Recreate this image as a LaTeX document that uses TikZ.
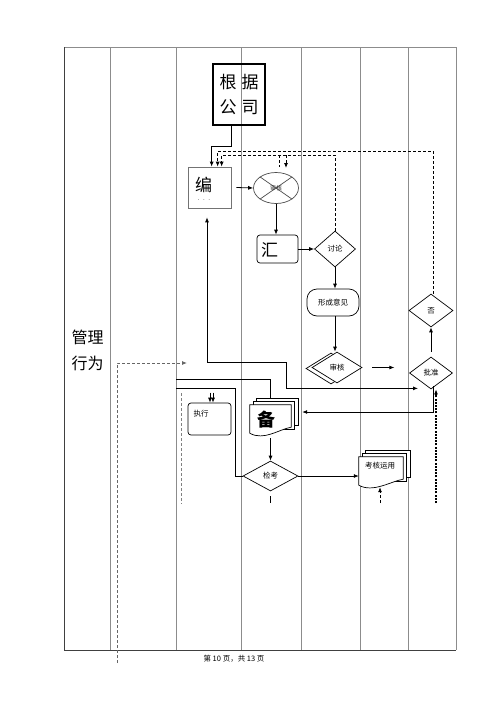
\documentclass[tikz,border=0pt]{standalone}
\usepackage{fontspec}
\newfontfamily\cjk{Noto Sans CJK SC}
\usetikzlibrary{shapes.geometric,arrows.meta}

\begin{document}
\begin{tikzpicture}[x=1pt,y=-1pt,>={Latex[length=5pt,width=4pt]},
    lane/.style={draw=black!45,line width=0.7pt},
    conn/.style={line width=0.8pt},
    dashln/.style={line width=0.8pt,dash pattern=on 3pt off 2pt},
    dia/.style={draw,diamond,inner sep=0pt,line width=0.7pt,fill=white},
    doc/.style={draw,fill=white,line width=0.7pt},
    lbl/.style={font=\cjk\fontsize{7.5}{8}\selectfont},
    big/.style={font=\cjk\fontsize{17}{20}\selectfont}]
            \useasboundingbox (0,0) rectangle (500,707);
            \foreach \x in {110,176,241,301,360,408} \draw[lane] (\x,47) -- (\x,650);
            \draw[lane] (64,47) -- (456,47) -- (456,650);
            \draw[line width=0.9pt,black!75] (64,47) -- (64,650) -- (456,650);
            \node[font=\cjk\fontsize{16}{26}\selectfont,align=left] (glxw) at (87.5,350) {管理\\行为};
            \node[draw,line width=2pt,minimum width=52pt,minimum height=61pt,inner sep=1pt,align=center,font=\cjk\fontsize{17}{25}\selectfont] (gsgs) at (239,94.5) {根\hspace{5pt}据\\公\hspace{5pt}司};
            \node[draw=black!55,line width=0.7pt,minimum width=43pt,minimum height=41pt] (bian) at (209.5,187.5) {};
            \node[big] at (203.5,185) {编};
            \node[font=\fontsize{7}{7}\selectfont] at (204,200) {.\hspace{3pt}.\hspace{3pt}.};
            \node[draw=black!70,ellipse,minimum width=45pt,minimum height=31pt,inner sep=0pt,line width=0.7pt] (sh1) at (276,188) {};
            \draw[black!70,line width=0.7pt] (sh1.north west) -- (sh1.south east) (sh1.north east) -- (sh1.south west);
            \node[font=\cjk\fontsize{6}{6}\selectfont,text=black!80] at (sh1) {审核};
            \node[draw,rounded corners=3pt,minimum width=41pt,minimum height=28pt,line width=0.7pt] (hui) at (277.5,249) {};
            \node[big] at (269.5,250) {汇};
            \node[dia,minimum width=41pt,minimum height=36pt,lbl] (tl) at (335,249) {讨论};
            \node[draw,rounded corners=10pt,minimum width=52pt,minimum height=27pt,line width=0.7pt,lbl] (xcyj) at (333,302.5) {形成意见};
            \node[dia,minimum width=50pt,minimum height=31pt] (shb) at (331,368.5) {};
            \node[dia,minimum width=50pt,minimum height=31pt,lbl] (shenhe) at (337,367.5) {审核};
            \node[dia,minimum width=44pt,minimum height=33pt,lbl] (fou) at (431,310.5) {否};
            \node[dia,minimum width=43pt,minimum height=32pt,lbl] (pz) at (431,373) {批准};
            \node[draw,rounded corners=3pt,minimum width=43pt,minimum height=32pt,line width=0.7pt] (zx) at (209.5,419) {};
            \node[lbl] at (201,414) {执行};
            \node[minimum width=41pt,minimum height=30pt,inner sep=0pt] (bei) at (270.5,420) {};
            \draw[doc] ([shift={(7,-6)}]bei.north west) rectangle ([shift={(7,-10)}]bei.south east);
            \draw[doc] ([shift={(3.5,-3)}]bei.north west) rectangle ([shift={(3.5,-6)}]bei.south east);
            \draw[doc] (bei.north west) -- (bei.north east) -- ([yshift=8pt]bei.south east) .. controls ([shift={(-12,-6)}]bei.south east) and ([shift={(14,6)}]bei.south west) .. ([yshift=2pt]bei.south west) -- cycle;
            \node[font=\cjk\bfseries\fontsize{18}{20}\selectfont] at (266.5,420) {备};
            \node[dia,minimum width=55pt,minimum height=30pt,lbl] (jk) at (270.5,476) {检考};
            \node[minimum width=44pt,minimum height=30pt,inner sep=0pt] (khyy) at (381,472) {};
            \draw[doc] ([shift={(7,-6)}]khyy.north west) rectangle ([shift={(7,-10)}]khyy.south east);
            \draw[doc] ([shift={(3.5,-3)}]khyy.north west) rectangle ([shift={(3.5,-6)}]khyy.south east);
            \draw[doc] (khyy.north west) -- (khyy.north east) -- ([yshift=8pt]khyy.south east) .. controls ([shift={(-12,-6)}]khyy.south east) and ([shift={(14,6)}]khyy.south west) .. ([yshift=2pt]khyy.south west) -- cycle;
            \node[lbl] at (380,466) {考核运用};
            \node[font=\cjk\fontsize{7.5}{8}\selectfont] (foot) at (234,659) {第 10 页，共 13 页};
            \coordinate (dtop) at (330,151);
            \coordinate (dmid) at (300,155);
            \coordinate (b1) at (279,155);
            \coordinate (b2) at (286,155);
            \coordinate (jn1) at (286,362);
            \coordinate (inA) at (176,379);
            \coordinate (inB) at (176,388);
            \coordinate (pzin) at (436,503);
            \coordinate (khin) at (380,503);
            \coordinate (glB) at (117,663);
            \coordinate (glE) at (187,363);
            \coordinate (zxL1) at (181,393);
            \coordinate (zxL2) at (181,504);
            \draw[conn,->] ([xshift=-8pt]gsgs.south) -- ++(0,20) -| ([xshift=24pt]bian.north west);
            \draw[dashln,->] ([xshift=2pt]fou.north) |- (dtop) -| ([xshift=30pt]bian.north west);
            \draw[dashln,->] (tl.north) |- (dmid) -| ([xshift=34pt]bian.north west);
            \draw[dashln] (b1) -- ++(0,12);
            \draw[dashln,->] (b2) -- ++(0,13);
            \draw[conn,->] ([xshift=5pt]bian.east) -- (sh1.west);
            \draw[conn,->] (sh1.south) -- (sh1.south |- hui.north);
            \draw[conn,->] (hui.east) -- (tl.west);
            \draw[conn,->] (tl.south) -- (tl.south |- xcyj.north);
            \draw[conn,->] (xcyj.south -| tl.south) -- (tl.south |- shenhe.north);
            \draw[conn,->] ([xshift=10pt]shenhe.east) -- ++(22,0);
            \draw[conn,->] ([yshift=5pt]pz.north) -- (fou.south);
            \draw[line width=1.3pt,dash pattern=on 2pt off 1.2pt,->] (pzin) -- (pzin |- pz.south);
            \draw[conn,->] ([xshift=2pt,yshift=3pt]pz.south) |- ([xshift=11pt,yshift=8pt]bei.east);
            \draw[conn,<->] ([xshift=-2.5pt,yshift=-9pt]bian.south) |- (jn1) |- ([xshift=-13pt,yshift=1pt]pz.south);
            \draw[conn] (inA) -| ([yshift=7pt]bei.north);
            \draw[conn] (inB) -| ([xshift=-7pt]jk.west) -- (jk.west);
            \draw[conn,->] ([xshift=0.5pt,yshift=10pt]zx.north) -- ([xshift=0.5pt]zx.north);
            \draw[conn,->] ([xshift=3.5pt,yshift=10pt]zx.north) -- ([xshift=3.5pt]zx.north);
            \draw[conn,->] ([yshift=-3pt]bei.south) -- (jk.north);
            \draw[conn] ([yshift=-5pt]jk.south) -- ++(0,7);
            \draw[conn,->] (jk.east) -- (jk.east -| khyy.west);
            \draw[dashln,->] (khin) -- (khin |- khyy.south);
            \draw[dashln,black!60,->] (glB) |- (glE);
            \draw[dashln,black!50] (zxL1) -- (zxL2);
        \end{tikzpicture}
\end{document}
